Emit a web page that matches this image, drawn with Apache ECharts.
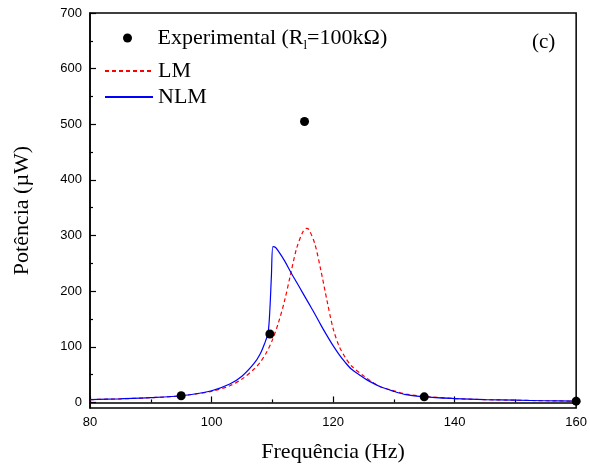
<!DOCTYPE html>
<html>
<head>
<meta charset="utf-8">
<script src="https://cdn.jsdelivr.net/npm/echarts@6/dist/echarts.min.js"></script>
<style>html,body{margin:0;padding:0;background:#fff}#c{width:590px;height:468px}</style>
</head>
<body>
<div id="c"></div>
<script>
// Experimental points
const expFreq = [95, 109.6, 115.3, 135, 160];
const expPower = [12, 123, 505, 10, 2.3];

// LM model curve
const lmFreq = [80, 85, 90, 95, 100, 103, 105, 107, 108, 109, 110, 111, 112, 113, 114, 115, 115.6, 116, 117, 118, 119, 120, 121, 122, 123, 125, 127.6, 130, 132, 135, 140, 145, 150, 155, 160];
const lmPower = [5, 6.5, 8.5, 12, 20, 30, 42, 60, 72, 89, 112, 143, 182, 230, 277, 306, 313, 311, 285, 237, 183, 133, 101, 81, 66, 48, 29, 21, 15, 11, 7, 5, 4, 3, 2.3];

// NLM model curve
const nlmFreq = [80, 85, 90, 95, 100, 103, 105, 107, 108, 108.7, 109.3, 109.6, 109.85, 110.1, 110.5, 111, 112, 113, 114, 115, 116, 117, 118, 119, 120, 121, 122, 123, 124.4, 125.5, 127.6, 130, 132, 135, 140, 145, 150, 155, 160];
const nlmPower = [5, 6.5, 8.5, 12, 21, 33, 47, 70, 87, 105, 125, 167, 227, 280, 279, 272, 255, 235, 216, 197, 178, 159, 139, 120, 102, 86, 72, 60, 49, 41, 29, 20, 14, 10, 7, 5, 4, 3, 2.3];

// Tick values
const yMajor = [0, 100, 200, 300, 400, 500, 600, 700];
const yMinor = [50, 150, 250, 350, 450, 550, 650];

const zip = (a, b) => a.map((v, i) => [v, b[i]]);
const serif = 'Liberation Serif';
const sans = 'Liberation Sans';

const chart = echarts.init(document.getElementById('c'));
chart.setOption({
  animation: false,
  backgroundColor: '#fff',
  title: {
    text: '(c)', left: 532, top: 32, padding: 0,
    textStyle: { fontFamily: serif, fontSize: 21, fontWeight: 'normal', color: '#000' }
  },
  grid: { left: 90, right: 13, top: 13, bottom: 60, show: true, borderColor: '#000', borderWidth: 1.5, backgroundColor: 'transparent' },
  legend: [
    {
      data: [{ name: 'Experimental (Rl=100kΩ)', icon: 'circle' }], left: 123, top: 27, padding: 0,
      itemWidth: 50, itemHeight: 9, symbolKeepAspect: true,
      itemStyle: { opacity: 1, color: '#000' },
      formatter: () => 'Experimental (R{sub|l}=100kΩ)',
      textStyle: { fontFamily: serif, fontSize: 22, color: '#000', rich: { sub: { fontFamily: serif, fontSize: 13, padding: [16, 0, 0, 0] } } }
    },
    {
      data: ['LM'], left: 104, top: 60, padding: 0, itemWidth: 48, itemHeight: 10,
      itemStyle: { opacity: 0 },
      textStyle: { fontFamily: serif, fontSize: 22, color: '#000' }
    },
    {
      data: ['NLM'], left: 104, top: 86, padding: 0, itemWidth: 48, itemHeight: 10,
      itemStyle: { opacity: 0 },
      textStyle: { fontFamily: serif, fontSize: 22, color: '#000' }
    }
  ],
  xAxis: {
    type: 'value', min: 80, max: 160, interval: 20,
    name: 'Frequência (Hz)', nameLocation: 'middle', nameGap: 33,
    nameTextStyle: { fontFamily: serif, fontSize: 22, color: '#000' },
    axisLine: { lineStyle: { color: '#000', width: 1.5 } },
    axisTick: { inside: true, length: 6, lineStyle: { color: '#000', width: 1.2 } },
    minorTick: { show: true, splitNumber: 2, length: 3, lineStyle: { color: '#000', width: 1.2 } },
    splitLine: { show: false },
    axisLabel: { fontFamily: sans, fontSize: 13, color: '#000', margin: 8 }
  },
  yAxis: [
    {
      type: 'value', min: -10, max: 700, position: 'left',
      name: 'Potência (µW)', nameLocation: 'middle', nameGap: 57,
      nameTextStyle: { fontFamily: serif, fontSize: 22, color: '#000' },
      axisLine: { show: true, lineStyle: { color: '#000', width: 1.5 } },
      axisTick: { inside: true, length: 6, customValues: yMajor, lineStyle: { color: '#000', width: 1.2 } },
      axisLabel: { fontFamily: sans, fontSize: 13, color: '#000', margin: 8, customValues: yMajor },
      splitLine: { show: false }
    },
    {
      type: 'value', min: -10, max: 700, position: 'left', offset: 0,
      axisLine: { show: false },
      axisTick: { show: true, inside: true, length: 3, customValues: yMinor, lineStyle: { color: '#000', width: 1.2 } },
      axisLabel: { show: false },
      splitLine: { show: false }
    }
  ],
  series: [
    {
      name: 'Experimental (Rl=100kΩ)', type: 'scatter', data: zip(expFreq, expPower),
      symbol: 'circle', symbolSize: 9, itemStyle: { color: '#000', opacity: 1 }, clip: false, z: 5
    },
    {
      name: 'LM', type: 'line', data: zip(lmFreq, lmPower), smooth: 0.3, symbol: 'none', showSymbol: false,
      lineStyle: { color: '#ff0000', width: 1.2, type: [4, 3] }, itemStyle: { color: '#ff0000' }
    },
    {
      name: 'NLM', type: 'line', data: zip(nlmFreq, nlmPower), smooth: 0.3, symbol: 'none', showSymbol: false,
      lineStyle: { color: '#0000ff', width: 1.2 }, itemStyle: { color: '#0000ff' }
    }
  ]
});
</script>
</body>
</html>
